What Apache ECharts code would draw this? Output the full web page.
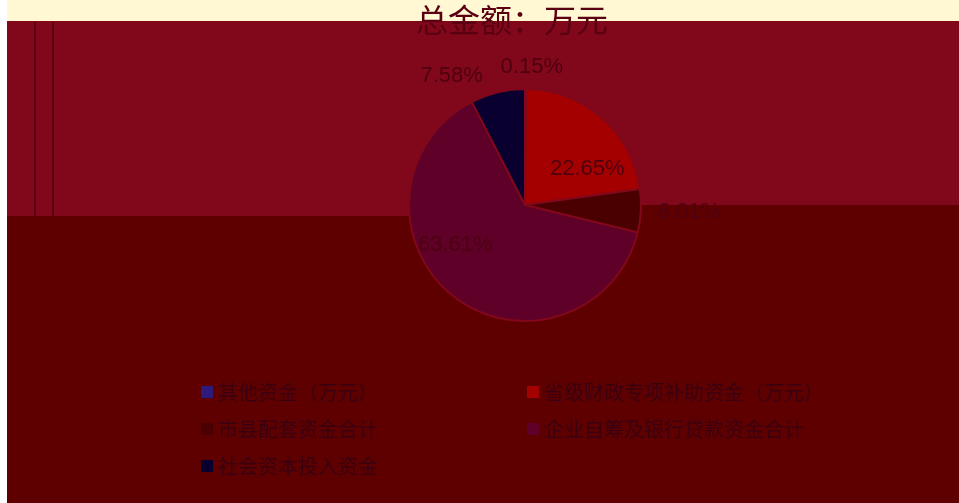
<!DOCTYPE html>
<html>
<head>
<meta charset="utf-8">
<title>总金额</title>
<script src="https://cdn.jsdelivr.net/npm/echarts@6/dist/echarts.min.js"></script>
<style>
  html, body { margin: 0; padding: 0; background: #ffffff; }
  #chart { width: 959px; height: 503px; }
</style>
</head>
<body>
<div id="chart"></div>
<script>
// data
const titleText = '总金额：万元'
const categories = ['其他资金（万元）', '省级财政专项补助资金（万元）', '市县配套资金合计', '企业自筹及银行贷款资金合计', '社会资本投入资金']
const percents = [0.15, 22.65, 6.01, 63.61, 7.58]
const colors = ['#2e1a7a', '#a40000', '#4a0000', '#5e0028', '#0a0030']
const insideLabels = [false, true, false, true, false]
// small nudges so the labels sit where the original put them
const labelShift = [[-30, -10], [22, 10], null, [-32, -8], [-7, -5]]

const chart = echarts.init(document.getElementById('chart'))

const pieData = categories.map(function (name, i) {
  return {
    name: name,
    value: percents[i],
    itemStyle: { color: colors[i] },
    label: { position: insideLabels[i] ? 'inside' : 'outside' }
  }
})

const legendBase = {
  orient: 'vertical',
  top: 377,
  itemGap: 17,
  itemWidth: 12,
  itemHeight: 12,
  icon: 'rect',
  itemStyle: { borderWidth: 0 },
  textStyle: { fontSize: 20, color: '#3a0010' }
}

const option = {
  animation: false,
  textStyle: { fontFamily: '"Noto Sans CJK SC", "Noto Sans", sans-serif' },
  graphic: [
    { type: 'rect', z: -10, shape: { x: 7, y: 0, width: 952, height: 21 }, style: { fill: '#fff8d2' } },
    { type: 'rect', z: -10, shape: { x: 7, y: 21, width: 952, height: 195 }, style: { fill: '#80081a' } },
    { type: 'rect', z: -10, shape: { x: 7, y: 216, width: 952, height: 287 }, style: { fill: '#5e0000' } },
    { type: 'rect', z: -9, shape: { x: 630, y: 205, width: 329, height: 11 }, style: { fill: '#5e0000' } },
    { type: 'rect', z: -9, shape: { x: 34, y: 22, width: 2, height: 194 }, style: { fill: '#5a0010' } },
    { type: 'rect', z: -9, shape: { x: 52, y: 22, width: 2, height: 194 }, style: { fill: '#5a0010' } }
  ],
  title: {
    text: titleText,
    left: 507,
    textAlign: 'center',
    top: -1,
    textStyle: { fontSize: 32, fontWeight: 'normal', color: '#5a0012' }
  },
  legend: [
    Object.assign({}, legendBase, { left: 196, data: [categories[0], categories[2], categories[4]] }),
    Object.assign({}, legendBase, { left: 522, data: [categories[1], categories[3]] })
  ],
  series: [
    {
      type: 'pie',
      center: [525, 205],
      radius: 116,
      startAngle: 90,
      clockwise: true,
      avoidLabelOverlap: false,
      itemStyle: { borderColor: '#80081a', borderWidth: 2 },
      label: {
        formatter: function (p) { return p.value.toFixed(2) + '%' },
        fontSize: 22,
        color: '#4e0010',
        fontFamily: '"Liberation Sans", "Noto Sans", sans-serif'
      },
      labelLine: { show: false, length: 12, length2: 0 },
      labelLayout: function (params) {
        const s = labelShift[params.dataIndex]
        return s ? { dx: s[0], dy: s[1] } : {}
      },
      data: pieData
    }
  ]
}

chart.setOption(option)
</script>
</body>
</html>
